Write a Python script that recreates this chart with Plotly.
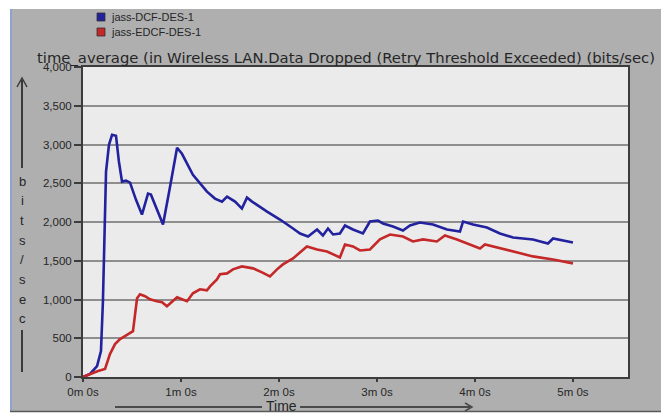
import plotly.graph_objects as go

# ---- data (time in seconds, value in bits/sec) ----
dcf_t = [0, 4.3, 8.6, 11.0, 12.2, 14.1, 15.9, 17.8, 20.2, 22.0, 23.9, 26.3, 28.8,
         32.4, 36.1, 39.8, 41.6, 45.3, 49.0, 53.3, 57.6, 60.6, 67.3, 75.9, 80.8,
         85.1, 88.2, 93.1, 97.3, 100.4, 103.5, 112.7, 120.6, 128.6, 132.9, 137.8,
         143.3, 146.9, 150.0, 153.1, 157.3, 160.4, 165.3, 171.4, 175.7, 180.6,
         183.7, 189.8, 195.9, 200.2, 206.3, 214.3, 222.9, 230.8, 232.7, 238.8,
         247.3, 255.3, 263.3, 275.5, 284.7, 287.8, 293.9, 300.0]
dcf_v = [0, 39, 141, 334, 977, 2650, 2996, 3125, 3112, 2778, 2521, 2533, 2508,
         2289, 2096, 2366, 2353, 2160, 1967, 2456, 2958, 2880, 2610, 2392, 2302,
         2263, 2327, 2263, 2173, 2315, 2263, 2135, 2032, 1916, 1852, 1813,
         1903, 1826, 1916, 1839, 1852, 1955, 1903, 1852, 2006, 2019,
         1981, 1942, 1890, 1955, 1993, 1968, 1903, 1877, 2006, 1968,
         1929, 1852, 1800, 1775, 1723, 1787, 1762, 1736]

edcf_t = [0, 4.3, 9.2, 13.5, 16.5, 19.6, 22.7, 25.7, 28.8, 30.6, 33.1, 34.9, 38.0,
          41.0, 45.3, 48.4, 51.4, 57.6, 60.6, 63.7, 67.3, 71.6, 75.9, 77.8, 82.0,
          83.9, 88.2, 91.8, 97.3, 104.1, 109.6, 114.5, 118.8, 122.4, 128.6, 132.9,
          137.1, 143.3, 149.4, 157.3, 160.4, 165.3, 169.6, 175.7, 181.8, 188.0,
          195.9, 202.0, 208.2, 216.7, 221.6, 229.0, 236.9, 243.1, 246.1, 255.3,
          264.5, 275.5, 287.8, 300.0]
edcf_v = [0, 39, 77, 103, 296, 424, 489, 527, 566, 592, 1016, 1067, 1042,
          1003, 977, 965, 913, 1029, 1003, 977, 1080, 1132, 1119, 1170, 1260,
          1325, 1337, 1389, 1427, 1402, 1350, 1299, 1389, 1453, 1530, 1608,
          1685, 1646, 1620, 1543, 1710, 1685, 1633, 1646, 1775, 1839,
          1813, 1749, 1775, 1749, 1826, 1775, 1710, 1659, 1710, 1659,
          1608, 1556, 1517, 1466]

series_names = ["jass-DCF-DES-1", "jass-EDCF-DES-1"]
series_colors = ["#22229e", "#c42828"]

x_tick_vals = [0, 60, 120, 180, 240, 300]
x_tick_text = ["0m 0s", "1m 0s", "2m 0s", "3m 0s", "4m 0s", "5m 0s"]
y_tick_vals = [0, 500, 1000, 1500, 2000, 2500, 3000, 3500, 4000]

chart_title = "time_average (in Wireless LAN.Data Dropped (Retry Threshold Exceeded) (bits/sec)"
y_letters = ["b", "i", "t", "s", "/", "s", "e", "c"]

# ---- page geometry (pixels) ----
W, H = 661, 414
L, R, T, B = 83, 628, 67, 377


def px(x):
    return (x - L) / (R - L)


def py(y):
    return (B - y) / (B - T)


FONT = "Liberation Sans, Arial, sans-serif"
WIDE_FONT = "DejaVu Sans, Verdana, sans-serif"
TXT = "#262626"

fig = go.Figure()
for t, v, name, col in [(dcf_t, dcf_v, series_names[0], series_colors[0]),
                        (edcf_t, edcf_v, series_names[1], series_colors[1])]:
    fig.add_trace(go.Scatter(x=t, y=v, mode="lines", name=name,
                             line=dict(color=col, width=2.6),
                             showlegend=False))

shapes = []
annotations = []

# white strips around the grey window
for x0, y0, x1, y1 in [(0, 0, W, 9), (0, 0, 10, H), (0, 412, W, H)]:
    shapes.append(dict(type="rect", xref="paper", yref="paper", layer="below",
                       x0=px(x0), x1=px(x1), y0=py(y1), y1=py(y0),
                       fillcolor="white", line=dict(width=0)))
# window edges
shapes.append(dict(type="line", xref="paper", yref="paper", layer="below",
                   x0=px(11), x1=px(11), y0=py(411), y1=py(9),
                   line=dict(color="#8ea4cc", width=2)))
shapes.append(dict(type="line", xref="paper", yref="paper", layer="below",
                   x0=px(10), x1=px(W), y0=py(411.5), y1=py(411.5),
                   line=dict(color="#5a5a5a", width=1.5)))

# legend swatches and labels
for i, (name, col) in enumerate(zip(series_names, series_colors)):
    yc = 17 + 15 * i
    shapes.append(dict(type="rect", xref="paper", yref="paper",
                       x0=px(97), x1=px(105), y0=py(yc + 4), y1=py(yc - 4),
                       fillcolor=col, line=dict(color="#303030", width=0.8)))
    annotations.append(dict(text=name, xref="paper", yref="paper",
                            x=px(109), y=py(yc), xanchor="left", yanchor="middle",
                            showarrow=False, font=dict(family=FONT, size=11, color=TXT)))

# chart title (runs past the right edge of the window)
annotations.append(dict(text=chart_title, xref="paper", yref="paper",
                        x=px(35), y=py(57), xanchor="left", yanchor="middle",
                        showarrow=False, font=dict(family=WIDE_FONT, size=14.8, color=TXT)))

# vertical axis caption: arrow and stacked letters
shapes.append(dict(type="line", xref="paper", yref="paper",
                   x0=px(22), x1=px(22), y0=py(168), y1=py(80),
                   line=dict(color="#3a3a3a", width=2)))
shapes.append(dict(type="path", xref="paper", yref="paper",
                   path="M {} {} L {} {} L {} {}".format(px(17), py(87), px(22), py(78), px(27), py(87)),
                   line=dict(color="#3a3a3a", width=1.5)))
shapes.append(dict(type="line", xref="paper", yref="paper",
                   x0=px(22), x1=px(22), y0=py(372), y1=py(330),
                   line=dict(color="#3a3a3a", width=2)))
for i, ch in enumerate(y_letters):
    annotations.append(dict(text=ch, xref="paper", yref="paper",
                            x=px(22), y=py(181 + 19.7 * i), xanchor="center", yanchor="middle",
                            showarrow=False, font=dict(family=FONT, size=13, color=TXT)))

# horizontal axis caption: line with arrow
annotations.append(dict(text="Time", xref="paper", yref="paper",
                        x=px(281), y=py(405.5), xanchor="center", yanchor="middle",
                        showarrow=False, font=dict(family=FONT, size=14, color=TXT)))
shapes.append(dict(type="line", xref="paper", yref="paper",
                   x0=px(115), x1=px(262), y0=py(407), y1=py(407),
                   line=dict(color="#4a4a4a", width=2)))
shapes.append(dict(type="line", xref="paper", yref="paper",
                   x0=px(300), x1=px(470), y0=py(407), y1=py(407),
                   line=dict(color="#4a4a4a", width=2)))
shapes.append(dict(type="path", xref="paper", yref="paper",
                   path="M {} {} L {} {} L {} {}".format(px(465), py(403), px(472), py(407), px(465), py(411)),
                   line=dict(color="#4a4a4a", width=1.5)))

fig.update_layout(
    width=W, height=H,
    margin=dict(l=L, r=W - R, t=T, b=H - B, pad=0),
    paper_bgcolor="#afafaf",
    plot_bgcolor="#ebebeb",
    shapes=shapes,
    annotations=annotations,
    showlegend=False,
    xaxis=dict(range=[0, 333.7], tickvals=x_tick_vals, ticktext=x_tick_text,
               showgrid=False, zeroline=False,
               showline=True, mirror=True, linecolor="#3c3c3c", linewidth=2,
               ticks="outside", ticklen=3, tickcolor="#3c3c3c", tickwidth=1.5,
               tickfont=dict(family=FONT, size=11.5, color=TXT)),
    yaxis=dict(range=[0, 4000], tickvals=y_tick_vals, tickformat=",d",
               showgrid=True, gridcolor="#8e8e8e", gridwidth=2, zeroline=False,
               showline=True, mirror=True, linecolor="#3c3c3c", linewidth=2,
               ticks="outside", ticklen=7, tickcolor="#3c3c3c", tickwidth=1.5,
               tickfont=dict(family=FONT, size=11.5, color=TXT)),
)

fig.write_html("out.html")
